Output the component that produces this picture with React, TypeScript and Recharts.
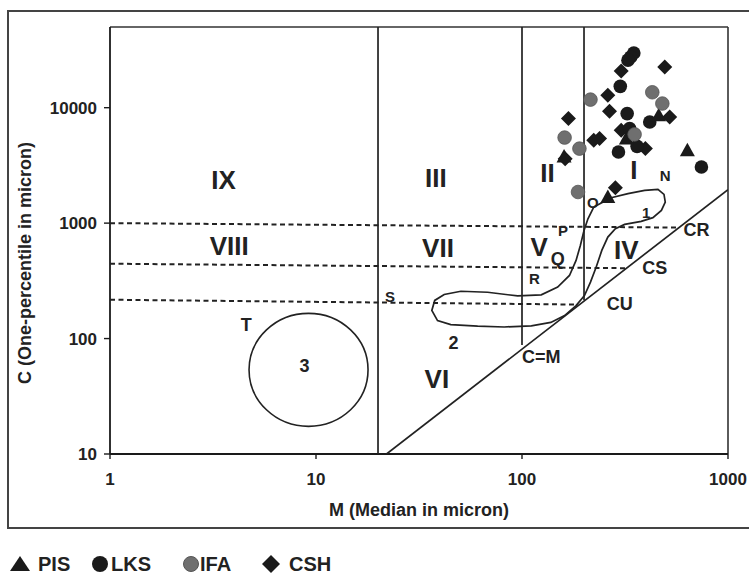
import React from 'react';
import { ScatterChart, Scatter, XAxis, YAxis, ReferenceLine, ReferenceDot } from 'recharts';

// axes (log-log C-M diagram)
const X_TICKS = [1, 10, 100, 1000];
const Y_TICKS = [10, 100, 1000, 10000];
const X_DOMAIN = [1, 1000];
const Y_DOMAIN = [10, 50000];

// samples: m = median (micron), c = one-percentile (micron)
const PIS = [
  { m: 461, c: 8590 },
  { m: 635, c: 4280 },
  { m: 321, c: 5400 },
  { m: 160, c: 3780 },
  { m: 261, c: 1680 },
];
const LKS = [
  { m: 349, c: 29800 },
  { m: 337, c: 27500 },
  { m: 327, c: 25800 },
  { m: 300, c: 15300 },
  { m: 324, c: 8890 },
  { m: 417, c: 7520 },
  { m: 333, c: 6590 },
  { m: 294, c: 4130 },
  { m: 362, c: 4625 },
  { m: 743, c: 3060 },
];
const IFA = [
  { m: 215, c: 11750 },
  { m: 429, c: 13600 },
  { m: 480, c: 10860 },
  { m: 352, c: 5870 },
  { m: 161, c: 5510 },
  { m: 190, c: 4420 },
  { m: 187, c: 1860 },
];
const CSH = [
  { m: 493, c: 22500 },
  { m: 303, c: 20800 },
  { m: 261, c: 12800 },
  { m: 266, c: 9310 },
  { m: 168, c: 8040 },
  { m: 521, c: 8300 },
  { m: 303, c: 6370 },
  { m: 223, c: 5210 },
  { m: 238, c: 5400 },
  { m: 397, c: 4420 },
  { m: 162, c: 3620 },
  { m: 284, c: 2030 },
];

// Passega field boundaries
const LINE_M20 = [{ m: 20, c: 10 }, { m: 20, c: 50000 }];
const LINE_M100 = [{ m: 100, c: 88 }, { m: 100, c: 50000 }];
const LINE_M200 = [{ m: 200, c: 215 }, { m: 200, c: 50000 }];
const LINE_CM = [{ m: 22, c: 10 }, { m: 1000, c: 1950 }];
const DASH_CR = [{ m: 1, c: 1000 }, { m: 573, c: 915 }];
const DASH_CS = [{ m: 1, c: 445 }, { m: 324, c: 407 }];
const DASH_CU = [{ m: 1, c: 217 }, { m: 187, c: 197 }];

// closed outline of fields 1 and 2
const OUTLINE = [
  { m: 223, c: 1377 }, { m: 271, c: 1660 }, { m: 327, c: 1800 }, { m: 394, c: 1920 },
  { m: 457, c: 1960 }, { m: 489, c: 1775 }, { m: 496, c: 1520 }, { m: 475, c: 1290 },
  { m: 432, c: 1115 }, { m: 379, c: 1035 }, { m: 315, c: 975 }, { m: 284, c: 893 },
  { m: 261, c: 757 }, { m: 244, c: 580 }, { m: 229, c: 415 }, { m: 215, c: 308 },
  { m: 201, c: 236 }, { m: 183, c: 193 }, { m: 161, c: 158 }, { m: 138, c: 138 },
  { m: 111, c: 129 }, { m: 82, c: 126 }, { m: 60.9, c: 128 }, { m: 45.1, c: 132 },
  { m: 38.9, c: 143 }, { m: 36.5, c: 175 }, { m: 37.7, c: 214 }, { m: 41.9, c: 241 },
  { m: 50.5, c: 257 }, { m: 68.1, c: 252 }, { m: 95.3, c: 234 }, { m: 124, c: 239 },
  { m: 149, c: 279 }, { m: 170, c: 352 }, { m: 183, c: 475 }, { m: 192, c: 641 },
  { m: 200, c: 865 }, { m: 209, c: 1091 }, { m: 223, c: 1377 },
];
const FIELD3_CENTER = { m: 9.2, c: 53.6 };

// text annotations
const ZONE_LABELS = [
  { text: 'IX', m: 3.56, c: 2345 },
  { text: 'III', m: 38.2, c: 2480 },
  { text: 'II', m: 133, c: 2700 },
  { text: 'I', m: 349, c: 2865 },
  { text: 'VIII', m: 3.79, c: 631 },
  { text: 'VII', m: 39.1, c: 612 },
  { text: 'V', m: 121, c: 619 },
  { text: 'IV', m: 321, c: 580 },
  { text: 'VI', m: 38.6, c: 44.7 },
];
const MID_LABELS = [
  { text: 'CR', m: 703, c: 865 },
  { text: 'CS', m: 441, c: 410 },
  { text: 'CU', m: 298, c: 200 },
  { text: 'C=M', m: 124, c: 68.8 },
  { text: 'T', m: 4.58, c: 132 },
  { text: '3', m: 8.79, c: 58.3 },
  { text: '2', m: 46.5, c: 91 },
  { text: 'Q', m: 149, c: 491 },
];
const SMALL_LABELS = [
  { text: 'N', m: 496, c: 2594 },
  { text: 'O', m: 221, c: 1520 },
  { text: 'P', m: 158, c: 865 },
  { text: 'S', m: 22.9, c: 233 },
  { text: 'R', m: 115, c: 330 },
  { text: '1', m: 401, c: 1245 },
];

const LEGEND_ITEMS = ['PIS', 'LKS', 'IFA', 'CSH'];

const INK = '#1a1a1a';
const GREY = '#6f6f6f';
const FONT = '"Liberation Sans", Arial, sans-serif';

const noDot = () => <g />;

const triangle = (p: any) => (
  <polygon
    points={`${p.cx},${p.cy - 7.5} ${p.cx + 7.5},${p.cy + 6} ${p.cx - 7.5},${p.cy + 6}`}
    fill={INK}
  />
);
const circle = (p: any) => <circle cx={p.cx} cy={p.cy} r={6.8} fill={INK} />;
const greyCircle = (p: any) => (
  <circle cx={p.cx} cy={p.cy} r={6.8} fill={GREY} stroke="#555" strokeWidth={0.8} />
);
const diamond = (p: any) => (
  <polygon
    points={`${p.cx},${p.cy - 7.5} ${p.cx + 7.5},${p.cy} ${p.cx},${p.cy + 7.5} ${p.cx - 7.5},${p.cy}`}
    fill={INK}
  />
);

const makeLabel = (size: number, weight: number) => (p: any) => (
  <text
    x={p.cx}
    y={p.cy}
    textAnchor="middle"
    dominantBaseline="central"
    fontSize={size}
    fontWeight={weight}
    fill="#222"
    fontFamily={FONT}
  >
    {p.payload.text}
  </text>
);

const solid = { stroke: '#222', strokeWidth: 1.7 };
const dashed = { stroke: '#222', strokeWidth: 2, strokeDasharray: '5 3.5' };

const legendIcon = (name: string) => {
  if (name === 'PIS') return <polygon points="10,2 20,17 0,17" fill={INK} />;
  if (name === 'LKS') return <circle cx={10} cy={10} r={8} fill={INK} />;
  if (name === 'IFA') return <circle cx={10} cy={10} r={7.5} fill={GREY} stroke="#555" />;
  return <polygon points="10,1 19,10 10,19 1,10" fill={INK} />;
};

const LEGEND_POS: Record<string, { icon: number; text: number }> = {
  PIS: { icon: 10, text: 38 },
  LKS: { icon: 90, text: 111 },
  IFA: { icon: 181, text: 200 },
  CSH: { icon: 261, text: 289 },
};

export default function App() {
  return (
    <div
      style={{
        position: 'absolute',
        left: 0,
        top: 0,
        width: 749,
        height: 574,
        overflow: 'hidden',
        background: '#fff',
        fontFamily: FONT,
      }}
    >
      <ScatterChart width={749} height={574} margin={{ top: 27, right: 21, left: 50, bottom: 80 }}>
        <XAxis
          type="number"
          dataKey="m"
          scale="log"
          domain={X_DOMAIN}
          ticks={X_TICKS}
          allowDataOverflow
          height={40}
          tickSize={5}
          tickMargin={14}
          tick={{ fontSize: 17, fontWeight: 700, fill: '#222' }}
          axisLine={{ stroke: INK, strokeWidth: 1.8 }}
          tickLine={{ stroke: INK, strokeWidth: 1.4 }}
        />
        <YAxis
          type="number"
          dataKey="c"
          scale="log"
          domain={Y_DOMAIN}
          ticks={Y_TICKS}
          allowDataOverflow
          width={60}
          tickSize={6}
          tickMargin={7}
          tick={{ fontSize: 17, fontWeight: 700, fill: '#222' }}
          axisLine={{ stroke: INK, strokeWidth: 1.8 }}
          tickLine={{ stroke: INK, strokeWidth: 1.4 }}
        />
        <ReferenceLine y={50000} stroke="#333" strokeWidth={1.6} />
        <ReferenceLine x={1000} stroke="#333" strokeWidth={1.6} />

        <Scatter data={LINE_M20} line={solid} shape={noDot} isAnimationActive={false} />
        <Scatter data={LINE_M100} line={solid} shape={noDot} isAnimationActive={false} />
        <Scatter data={LINE_M200} line={solid} shape={noDot} isAnimationActive={false} />
        <Scatter data={LINE_CM} line={solid} shape={noDot} isAnimationActive={false} />
        <Scatter data={DASH_CR} line={dashed} shape={noDot} isAnimationActive={false} />
        <Scatter data={DASH_CS} line={dashed} shape={noDot} isAnimationActive={false} />
        <Scatter data={DASH_CU} line={dashed} shape={noDot} isAnimationActive={false} />
        <Scatter data={OUTLINE} line={solid} shape={noDot} isAnimationActive={false} />

        <ReferenceDot
          x={FIELD3_CENTER.m}
          y={FIELD3_CENTER.c}
          r={58}
          shape={(p: any) => (
            <ellipse cx={p.cx} cy={p.cy} rx={59.5} ry={56.5} fill="none" stroke="#222" strokeWidth={1.6} />
          )}
        />

        <Scatter data={ZONE_LABELS} shape={makeLabel(26, 700)} isAnimationActive={false} />
        <Scatter data={MID_LABELS} shape={makeLabel(18, 700)} isAnimationActive={false} />
        <Scatter data={SMALL_LABELS} shape={makeLabel(15, 700)} isAnimationActive={false} />

        <Scatter data={CSH} shape={diamond} isAnimationActive={false} />
        <Scatter data={LKS} shape={circle} isAnimationActive={false} />
        <Scatter data={PIS} shape={triangle} isAnimationActive={false} />
        <Scatter data={IFA} shape={greyCircle} isAnimationActive={false} />
      </ScatterChart>

      {/* outer frame */}
      <div
        style={{
          position: 'absolute',
          left: 7,
          top: 10,
          width: 760,
          height: 515,
          border: '2px solid #444',
          pointerEvents: 'none',
        }}
      />

      <div
        style={{
          position: 'absolute',
          left: 25,
          top: 263,
          transform: 'translate(-50%, -50%) rotate(-90deg)',
          whiteSpace: 'nowrap',
          fontSize: 18,
          fontWeight: 700,
          color: '#222',
        }}
      >
        C (One-percentile in micron)
      </div>
      <div
        style={{
          position: 'absolute',
          left: 419,
          top: 510,
          transform: 'translate(-50%, -50%)',
          whiteSpace: 'nowrap',
          fontSize: 18,
          fontWeight: 700,
          color: '#222',
        }}
      >
        M (Median in micron)
      </div>

      {/* legend */}
      {LEGEND_ITEMS.map((name) => (
        <React.Fragment key={name}>
          <svg
            width={20}
            height={20}
            style={{ position: 'absolute', left: LEGEND_POS[name].icon, top: 554 }}
          >
            {legendIcon(name)}
          </svg>
          <div
            style={{
              position: 'absolute',
              left: LEGEND_POS[name].text,
              top: 564,
              transform: 'translateY(-50%)',
              fontSize: 20,
              fontWeight: 700,
              color: '#222',
            }}
          >
            {name}
          </div>
        </React.Fragment>
      ))}
    </div>
  );
}
